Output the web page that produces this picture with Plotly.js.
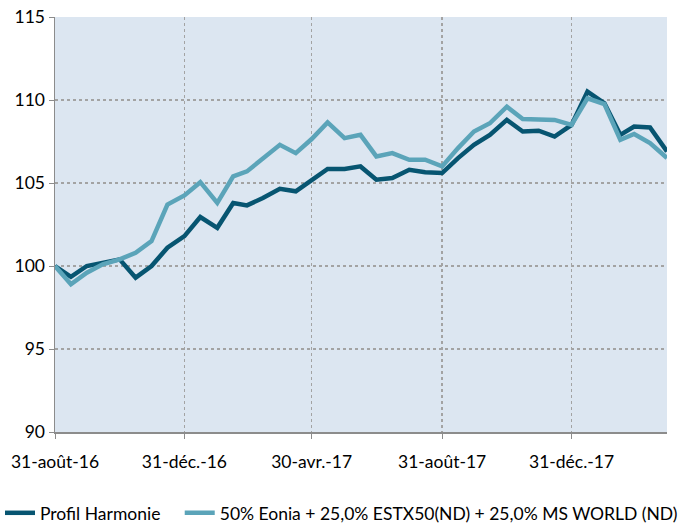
<!DOCTYPE html>
<html>
<head>
<meta charset="utf-8">
<script src="https://cdn.plot.ly/plotly-3.0.1.min.js"></script>
<style>html,body{margin:0;padding:0;background:#fff}#chart{width:686px;height:525px}</style>
</head>
<body>
<div id="chart"></div>
<script>
const dates = [
  "2016-08-31","2016-09-15","2016-09-30","2016-10-15","2016-10-31","2016-11-15","2016-11-30",
  "2016-12-15","2016-12-31","2017-01-15","2017-01-31","2017-02-15","2017-02-28","2017-03-15",
  "2017-03-31","2017-04-15","2017-04-30","2017-05-15","2017-05-31","2017-06-15","2017-06-30",
  "2017-07-15","2017-07-31","2017-08-15","2017-08-31","2017-09-15","2017-09-30","2017-10-15",
  "2017-10-31","2017-11-15","2017-11-30","2017-12-15","2017-12-31","2018-01-15","2018-01-31",
  "2018-02-15","2018-02-28","2018-03-15","2018-03-31"
];
const profilHarmonie = [
  100.0, 99.35, 100.0, 100.2, 100.4, 99.3, 100.0,
  101.1, 101.8, 102.95, 102.3, 103.8, 103.65, 104.1,
  104.65, 104.5, 105.2, 105.85, 105.85, 106.0, 105.2,
  105.3, 105.8, 105.65, 105.6, 106.5, 107.3, 107.9,
  108.8, 108.1, 108.15, 107.8, 108.5, 110.5, 109.8,
  107.9, 108.4, 108.35, 106.9
];
const benchmark = [
  100.0, 98.9, 99.6, 100.1, 100.4, 100.8, 101.5,
  103.7, 104.25, 105.05, 103.8, 105.4, 105.7, 106.5,
  107.3, 106.8, 107.65, 108.65, 107.7, 107.9, 106.6,
  106.8, 106.4, 106.4, 106.0, 107.1, 108.1, 108.6,
  109.6, 108.85, 108.85, 108.8, 108.5, 110.1, 109.75,
  107.6, 107.95, 107.4, 106.5
];
const seriesNames = ["Profil Harmonie", "50% Eonia + 25,0% ESTX50(ND) + 25,0% MS WORLD (ND)"];
const xTickVals = ["2016-08-31","2016-12-31","2017-04-30","2017-08-31","2017-12-31"];
const xTickText = ["31-août-16","31-déc.-16","30-avr.-17","31-août-17","31-déc.-17"];
const yTickVals = [90, 95, 100, 105, 110, 115];

const font = "Lato, 'Open Sans', sans-serif";
const fs = 17.5;
const data = [
  {x: dates, y: profilHarmonie, name: seriesNames[0], type: "scatter", mode: "lines",
   line: {color: "#075571", width: 4.5}, legend: "legend"},
  {x: dates, y: benchmark, name: seriesNames[1], type: "scatter", mode: "lines",
   line: {color: "#5ba4b9", width: 4.5}, legend: "legend2"}
];
const legendBase = {orientation: "h", xref: "container", yref: "container",
  xanchor: "left", y: 0.023, yanchor: "middle",
  font: {family: font, size: fs}, bgcolor: "rgba(0,0,0,0)"};
const layout = {
  width: 686, height: 525,
  margin: {l: 55, r: 19, t: 17, b: 93, autoexpand: false},
  paper_bgcolor: "#ffffff",
  plot_bgcolor: "#dce6f1",
  font: {family: font, size: fs, color: "#000"},
  xaxis: {
    type: "date", range: ["2016-08-31", "2018-03-31"],
    tickvals: xTickVals, ticktext: xTickText,
    showgrid: true, gridcolor: "#a3a3a3", griddash: "dot", gridwidth: 1.6,
    showline: true, linecolor: "#8c8c8c", linewidth: 1.5,
    ticks: "outside", ticklen: 5, tickcolor: "#8c8c8c",
    ticklabelstandoff: 8,
    tickfont: {family: font, size: fs}, zeroline: false, fixedrange: true
  },
  yaxis: {
    range: [90, 115], tickvals: yTickVals,
    showgrid: true, gridcolor: "#a3a3a3", griddash: "dot", gridwidth: 1.6,
    showline: true, linecolor: "#8c8c8c", linewidth: 1.5,
    ticks: "outside", ticklen: 5, tickcolor: "#8c8c8c",
    tickfont: {family: font, size: fs}, zeroline: false, fixedrange: true
  },
  showlegend: true,
  legend: Object.assign({}, legendBase, {x: 0.0}),
  legend2: Object.assign({}, legendBase, {x: 0.262})
};
Plotly.newPlot("chart", data, layout, {displayModeBar: false, staticPlot: true});
</script>
</body>
</html>
